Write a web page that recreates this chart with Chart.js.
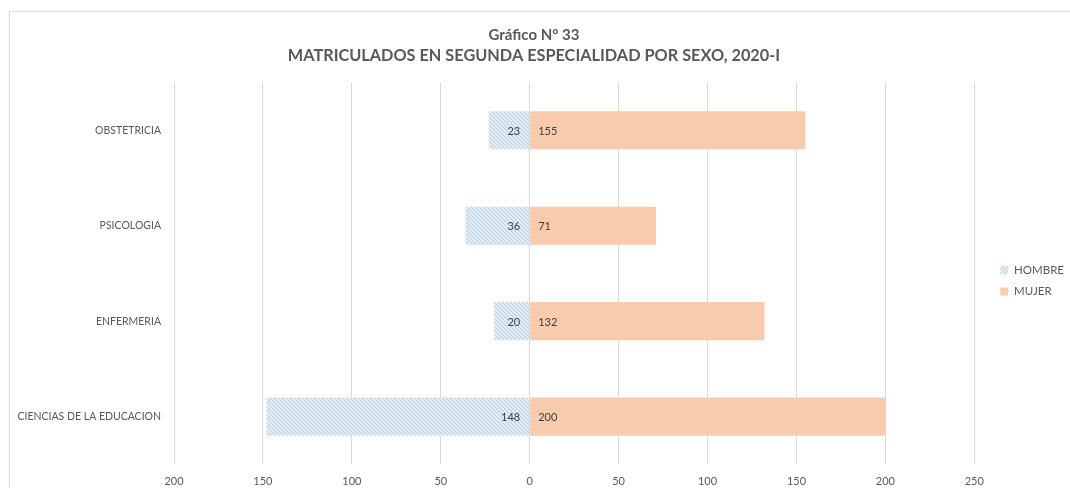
<!DOCTYPE html>
<html>
<head>
<meta charset="utf-8">
<script src="https://cdn.jsdelivr.net/npm/chart.js@4.4.1/dist/chart.umd.min.js"></script>
<style>
  html, body { margin: 0; padding: 0; background: #fff; }
  #wrap { position: relative; width: 1070px; height: 488px; overflow: hidden; }
  #frame { position: absolute; left: 9px; top: 11px; width: 1100px; height: 520px; border: 1px solid #d9d9d9; }
  #myBarChart { position: absolute; left: 0; top: 0; }
</style>
</head>
<body>
<div id="wrap">
  <div id="frame"></div>
  <canvas id="myBarChart" width="1070" height="488"></canvas>
</div>
<script>
const categories = ['OBSTETRICIA', 'PSICOLOGIA', 'ENFERMERIA', 'CIENCIAS DE LA EDUCACION'];
const hombre = [23, 36, 20, 148];
const mujer = [155, 71, 132, 200];
const xTicks = [-200, -150, -100, -50, 0, 50, 100, 150, 200, 250];

const FONT = 'Lato, "Open Sans", sans-serif';

// hatch pattern for HOMBRE
function makeHatch() {
  const c = document.createElement('canvas');
  c.width = 4; c.height = 4;
  const g = c.getContext('2d');
  g.fillStyle = '#e2ecf5';
  g.fillRect(0, 0, 4, 4);
  g.strokeStyle = '#b5cde1';
  g.lineWidth = 1;
  g.beginPath();
  g.moveTo(0, 0); g.lineTo(4, 4);
  g.moveTo(-2, 2); g.lineTo(2, 6);
  g.moveTo(2, -2); g.lineTo(6, 2);
  g.stroke();
  return g.createPattern(c, 'repeat');
}

// value labels next to the zero line
const barLabels = {
  id: 'barLabels',
  afterDatasetsDraw(chart) {
    const ctx = chart.ctx;
    ctx.save();
    ctx.font = '11px ' + FONT;
    ctx.fillStyle = '#404040';
    ctx.textBaseline = 'middle';
    chart.data.datasets.forEach((ds, i) => {
      chart.getDatasetMeta(i).data.forEach((bar, j) => {
        const v = Math.abs(ds.data[j]);
        if (ds.data[j] < 0) {
          ctx.textAlign = 'right';
          ctx.fillText(v, bar.base - 9, bar.y + 1);
        } else {
          ctx.textAlign = 'left';
          ctx.fillText(v, bar.base + 8, bar.y + 1);
        }
      });
    });
    ctx.restore();
  }
};

// nudge the legend a little right and down, like the original
const legendShift = {
  id: 'legendShift',
  afterLayout(chart) {
    const lg = chart.legend;
    if (!lg) return;
    lg.left += 16; lg.right += 16;
    lg.top += 18; lg.bottom += 18;
  }
};

const canvas = document.getElementById('myBarChart');
const ctx = canvas.getContext('2d');

new Chart(ctx, {
  type: 'bar',
  data: {
    labels: categories,
    datasets: [{
      label: 'HOMBRE',
      data: hombre.map(v => -v),
      backgroundColor: makeHatch(),
      borderWidth: 0,
      categoryPercentage: 1,
      barPercentage: 0.4
    }, {
      label: 'MUJER',
      data: mujer,
      backgroundColor: '#f8cbad',
      borderWidth: 0,
      categoryPercentage: 1,
      barPercentage: 0.4
    }]
  },
  options: {
    indexAxis: 'y',
    responsive: false,
    animation: false,
    layout: { padding: { left: 10, right: 12, top: 26, bottom: -11.5 } },
    plugins: {
      title: {
        display: true,
        text: 'Gráfico N° 33',
        color: '#595959',
        font: { family: FONT, size: 15, weight: 'bold' },
        padding: { top: 0, bottom: 2 }
      },
      subtitle: {
        display: true,
        text: 'MATRICULADOS EN SEGUNDA ESPECIALIDAD POR SEXO, 2020-I',
        color: '#595959',
        font: { family: FONT, size: 16.3, weight: 'bold' },
        padding: { top: 0, bottom: 17 }
      },
      legend: {
        position: 'right',
        labels: {
          color: '#595959',
          font: { family: FONT, size: 11.5 },
          boxWidth: 8,
          boxHeight: 8,
          padding: 10
        }
      },
      tooltip: { enabled: false }
    },
    scales: {
      x: {
        stacked: true,
        min: -200,
        max: 250,
        afterBuildTicks: (scale) => { scale.ticks = xTicks.map(v => ({ value: v })); },
        ticks: {
          color: '#595959',
          font: { family: FONT, size: 11 },
          padding: 11,
          callback: (value) => Math.abs(value)
        },
        grid: { color: '#d9d9d9', drawTicks: false },
        border: { display: false }
      },
      y: {
        stacked: true,
        afterFit: (scale) => { scale.width = 164; },
        ticks: {
          color: '#595959',
          font: { family: FONT, size: 10.5 },
          padding: 5
        },
        grid: { display: false },
        border: { display: false }
      }
    }
  },
  plugins: [barLabels, legendShift]
});
</script>
</body>
</html>
